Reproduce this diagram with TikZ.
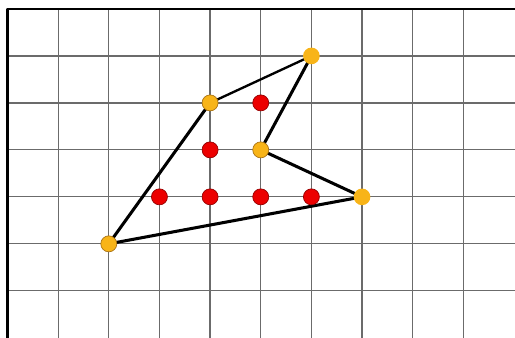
\documentclass[tikz,border=0pt]{standalone}
\usepackage{tikz}
\definecolor{dotGold}{RGB}{248,180,24}
\definecolor{dotGoldLine}{RGB}{170,115,20}
\definecolor{dotRed}{RGB}{236,0,0}
\definecolor{dotRedLine}{RGB}{150,0,0}
\tikzset{gridline/.style={draw=black!58,line width=1.05pt},
 border/.style={draw=black,line width=2pt},
 edge/.style={draw=black,line width=2.6pt},
 goldpt/.style={circle,fill=dotGold,draw=dotGoldLine,line width=.6pt,inner sep=0pt,minimum size=.48cm},
 goldbare/.style={circle,fill=dotGold,inner sep=0pt,minimum size=.5cm},
 redpt/.style={circle,fill=dotRed,draw=dotRedLine,line width=.6pt,inner sep=0pt,minimum size=.48cm},
 every picture/.style={line join=round,line cap=round}}
\begin{document}
\begin{tikzpicture}[x=1.52cm,y=-1.41cm]
\useasboundingbox (-0.148,-0.19) rectangle (10.02,7.0);
\begin{scope}
\clip (-0.148,-0.19) rectangle (10.02,7.0);
\foreach \i in {1,...,9} \draw[gridline] (\i,0) -- (\i,7.2);
\foreach \j in {1,...,6} \draw[gridline] (0,\j) -- (10.2,\j);
\draw[border] (0,7.2) -- (0,0) -- (10.2,0);
\end{scope}
\coordinate (pA) at (2,5);
\coordinate (pB) at (4,2);
\coordinate (pC) at (6,1);
\coordinate (pD) at (5,3);
\coordinate (pE) at (7,4);
\draw[edge] (pA) -- (pB);
\draw[edge,line width=2pt] (pB) -- (pC);
\draw[edge] (pC) -- (pD);
\draw[edge] (pD) -- (pE);
\draw[edge] (pE) -- (pA);
\node[redpt] (r1) at (5,2) {};
\node[redpt] (r2) at (4,3) {};
\node[redpt] (r3) at (3,4) {};
\node[redpt] (r4) at (4,4) {};
\node[redpt] (r5) at (5,4) {};
\node[redpt] (r6) at (6,4) {};
\node[goldpt] (vA) at (pA) {};
\node[goldpt] (vB) at (pB) {};
\node[goldbare] (vC) at (pC) {};
\node[goldpt] (vD) at (pD) {};
\node[goldbare] (vE) at (pE) {};
\end{tikzpicture}
\end{document}
